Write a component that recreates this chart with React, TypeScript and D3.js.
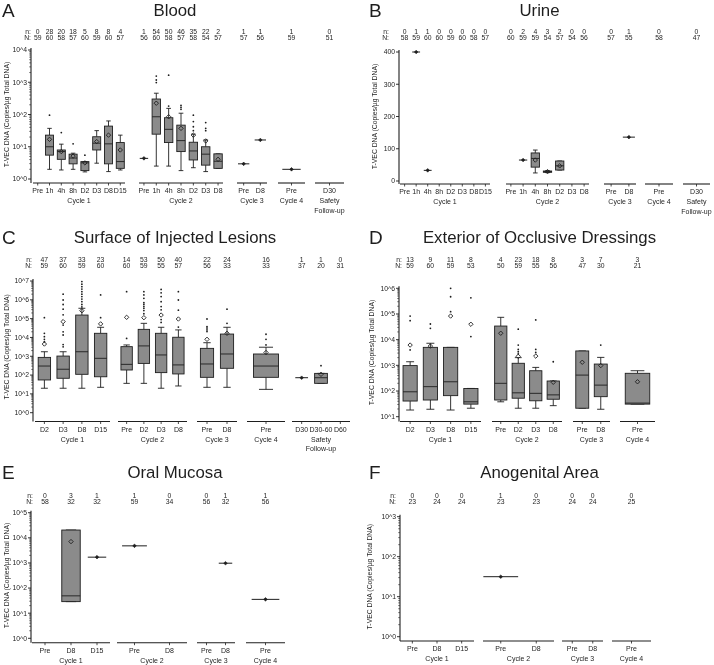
import React from "react";
import * as d3 from "d3";

const FONT = "'Liberation Sans', Arial, Helvetica, sans-serif";
const INK = "#1e1e1e";
const BOX_FILL = "#8b8b8b";
const Y_TITLE = "T-VEC DNA (Copies/µg Total DNA)";

// box rows: [group, category, whiskerLow, q1, median, q3, whiskerHigh, mean, outliers]
// single rows: [group, category, value]
// log panels hold log10(copies); the urine panel holds copies

// ---- A Blood ----
const bloodGroups = ["Cycle 1", "Cycle 2", "Cycle 3", "Cycle 4", "Safety\nFollow-up"];
const bloodCats = [
  ["Pre", "1h", "4h", "8h", "D2", "D3", "D8", "D15"],
  ["Pre", "1h", "4h", "8h", "D2", "D3", "D8"],
  ["Pre", "D8"],
  ["Pre"],
  ["D30"],
];
const bloodSmallN = [[0, 28, 20, 18, 5, 8, 8, 4], [1, 54, 50, 46, 35, 22, 2], [1, 1], [1], [0]];
const bloodBigN = [[59, 60, 58, 57, 60, 59, 60, 57], [56, 60, 58, 57, 58, 54, 57], [57, 56], [59], [51]];
const bloodBoxes = [
  [0, "1h", 0.3, 0.74, 1.0, 1.36, 1.57, 1.23, [1.98]],
  [0, "4h", 0.28, 0.61, 0.85, 0.9, 1.08, 0.85, [1.44]],
  [0, "8h", 0.3, 0.47, 0.65, 0.77, 0.8, 0.71, [1.09]],
  [0, "D2", 0.22, 0.26, 0.5, 0.54, 0.54, 0.5, [0.74]],
  [0, "D3", 0.49, 0.9, 1.11, 1.31, 1.5, 1.16, []],
  [0, "D8", 0.23, 0.47, 1.09, 1.64, 1.8, 1.36, []],
  [0, "D15", 0.28, 0.33, 0.54, 1.13, 1.36, 0.9, []],
  [1, "1h", 0.4, 1.39, 1.93, 2.48, 2.66, 2.35, [2.99, 3.07, 3.19]],
  [1, "4h", 0.4, 1.13, 1.54, 1.9, 2.19, 1.93, [2.26, 3.22]],
  [1, "8h", 0.26, 0.85, 1.19, 1.67, 2.04, 1.57, [2.16, 2.22, 2.28]],
  [1, "D2", 0.35, 0.59, 0.87, 1.14, 1.39, 1.36, [1.5, 1.62, 1.78, 1.98]],
  [1, "D3", 0.23, 0.43, 0.77, 1.0, 1.21, 1.18, [1.5, 1.57, 1.75]],
  [1, "D8", 0.33, 0.33, 0.55, 0.78, 0.78, 0.61, []],
];
const bloodSingles = [[1, "Pre", 0.64], [2, "Pre", 0.47], [2, "D8", 1.21], [3, "Pre", 0.3]];

// ---- B Urine ----
const urineGroups = bloodGroups;
const urineCats = bloodCats;
const urineSmallN = [[0, 1, 1, 0, 0, 0, 0, 0], [0, 2, 4, 3, 2, 0, 0], [0, 1], [0], [0]];
const urineBigN = [[58, 59, 60, 60, 59, 60, 58, 57], [60, 59, 59, 54, 57, 54, 56], [57, 55], [58], [47]];
const urineBoxes = [
  [1, "4h", 25, 43, 70, 87, 96, 65, []],
  [1, "8h", 26, 27, 29, 31, 32, 29, []],
  [1, "D2", 34, 34, 47, 62, 62, 47, []],
];
const urineSingles = [[0, "1h", 400], [0, "4h", 33], [1, "1h", 65], [2, "D8", 136]];

// ---- C Surface of Injected Lesions ----
const surfaceGroups = bloodGroups;
const surfaceCats = [["D2", "D3", "D8", "D15"], ["Pre", "D2", "D3", "D8"], ["Pre", "D8"], ["Pre"], ["D30", "D30-60", "D60"]];
const surfaceSmallN = [[47, 37, 33, 23], [14, 53, 50, 40], [22, 24], [16], [1, 1, 0]];
const surfaceBigN = [[59, 60, 59, 60], [60, 59, 55, 57], [56, 33], [33], [37, 20, 31]];
const surfaceBoxes = [
  [0, "D2", 1.3, 1.74, 2.48, 2.94, 3.24, 3.65, [3.77, 3.9, 4.04, 4.22, 5.05]],
  [0, "D3", 1.3, 1.83, 2.31, 3.01, 3.24, 4.84, [3.5, 3.62, 4.13, 4.3, 4.66, 5.2, 5.5, 5.75, 5.99, 6.3]],
  [0, "D8", 1.3, 2.04, 3.24, 5.19, 5.55, 5.42, [5.62, 5.75, 5.9, 6.04, 6.17, 6.3, 6.43, 6.57, 6.7, 6.83, 6.97]],
  [0, "D15", 1.35, 1.91, 2.89, 4.22, 4.54, 4.72, [5.05, 6.26]],
  [1, "Pre", 1.56, 2.27, 2.57, 3.51, 3.6, 5.07, [3.95, 6.43]],
  [1, "D2", 1.56, 2.62, 3.55, 4.43, 4.75, 5.05, [5.26, 5.43, 5.55, 5.64, 5.75, 5.85, 6.08, 6.26, 6.43]],
  [1, "D3", 1.3, 2.13, 3.07, 4.22, 4.54, 5.19, [4.8, 4.95, 5.47, 5.64, 5.9, 6.17, 6.37, 6.55]],
  [1, "D8", 1.42, 2.06, 2.54, 4.01, 4.4, 4.98, [4.55, 5.45, 5.99, 6.43]],
  [2, "Pre", 1.35, 1.88, 2.59, 3.42, 3.72, 3.9, [4.31, 4.4, 4.5, 4.57, 4.98]],
  [2, "D8", 1.35, 2.36, 3.12, 4.18, 4.54, 4.22, [4.75, 5.5]],
  [3, "Pre", 1.24, 1.88, 2.48, 3.12, 3.48, 3.2, [3.6, 3.9, 4.17]],
  [4, "D30-60", 1.56, 1.56, 1.86, 2.09, 2.09, 2.04, [2.5]],
];
const surfaceSingles = [[4, "D30", 1.86]];

// ---- D Exterior of Occlusive Dressings ----
const dressingGroups = ["Cycle 1", "Cycle 2", "Cycle 3", "Cycle 4"];
const dressingCats = [["D2", "D3", "D8", "D15"], ["Pre", "D2", "D3", "D8"], ["Pre", "D8"], ["Pre"]];
const dressingSmallN = [[13, 9, 11, 8], [4, 23, 18, 8], [3, 7], [3]];
const dressingBigN = [[59, 60, 59, 53], [50, 59, 55, 56], [47, 30], [21]];
const dressingBoxes = [
  [0, "D2", 1.26, 1.61, 1.97, 2.99, 3.14, 3.79, [3.6, 4.74, 4.92]],
  [0, "D3", 1.29, 1.65, 2.17, 3.7, 3.86, 3.75, [4.44, 4.61]],
  [0, "D8", 1.26, 1.82, 2.36, 3.7, 3.7, 4.92, [5.09, 5.67, 6.0]],
  [0, "D15", 1.33, 1.49, 1.58, 2.1, 2.1, 4.6, [4.12, 5.63]],
  [1, "Pre", 1.58, 1.65, 2.3, 4.53, 4.87, 4.25, []],
  [1, "D2", 1.33, 1.72, 1.93, 3.08, 3.3, 3.35, [3.45, 3.53, 3.62, 3.79, 4.41]],
  [1, "D3", 1.33, 1.62, 1.91, 2.79, 2.92, 3.36, [3.5, 3.62, 4.77]],
  [1, "D8", 1.43, 1.68, 1.85, 2.39, 2.39, 2.34, [3.14]],
  [2, "Pre", 1.33, 1.33, 2.62, 3.56, 3.56, 3.12, []],
  [2, "D8", 1.29, 1.78, 2.23, 3.05, 3.31, 2.99, [3.79]],
  [3, "Pre", 1.49, 1.49, 1.53, 2.69, 2.79, 2.36, []],
];
const dressingSingles: any[] = [];

// ---- E Oral Mucosa ----
const oralGroups = dressingGroups;
const oralCats = [["Pre", "D8", "D15"], ["Pre", "D8"], ["Pre", "D8"], ["Pre"]];
const oralSmallN = [[0, 3, 1], [1, 0], [0, 1], [1]];
const oralBigN = [[58, 32, 32], [59, 34], [56, 32], [56]];
const oralBoxes = [[0, "D8", 1.46, 1.46, 1.69, 4.31, 4.31, 3.85, []]];
const oralSingles = [[0, "D15", 3.23], [1, "Pre", 3.68], [2, "D8", 2.99], [3, "Pre", 1.55]];

// ---- F Anogenital Area ----
const anoGroups = dressingGroups;
const anoCats = oralCats;
const anoSmallN = [[0, 0, 0], [1, 0], [0, 0], [0]];
const anoBigN = [[23, 24, 24], [23, 23], [24, 24], [25]];
const anoBoxes: any[] = [];
const anoSingles = [[1, "Pre", 1.5]];

// ---- layout ----
const panels = [
  {
    letter: "A", letterX: 2, title: "Blood", cx: 175, titleY: 16, nY: 34, NY: 40, nX: 31, titleX: 9,
    axisX: 31, log: true, domain: [0, 4], yBottom: 179, yTop: 50, lineY: 183,
    spans: [[33, 125], [139, 223], [237, 267], [278, 305], [315, 344]], pad: 0.4, boxK: 0.68,
    groups: bloodGroups, cats: bloodCats, smallN: bloodSmallN, bigN: bloodBigN, boxes: bloodBoxes, singles: bloodSingles,
  },
  {
    letter: "B", letterX: 369, title: "Urine", cx: 539.5, titleY: 16, nY: 34, NY: 40, nX: 389, titleX: 377,
    axisX: 399, log: false, domain: [0, 400], yBottom: 181, yTop: 52, lineY: 184,
    spans: [[400, 490], [506, 589], [604, 636], [645, 673], [683, 710]], pad: 0.4, boxK: 0.68,
    groups: urineGroups, cats: urineCats, smallN: urineSmallN, bigN: urineBigN, boxes: urineBoxes, singles: urineSingles,
  },
  {
    letter: "C", letterX: 2, title: "Surface of Injected Lesions", cx: 175, titleY: 243, nY: 262, NY: 268, nX: 32, titleX: 9,
    axisX: 33, log: true, domain: [0, 7], yBottom: 412.7, yTop: 281, lineY: 421.5,
    spans: [[35, 110], [118, 187], [197, 237], [247, 285], [292, 350]], pad: 0.5, boxK: 0.66,
    groups: surfaceGroups, cats: surfaceCats, smallN: surfaceSmallN, bigN: surfaceBigN, boxes: surfaceBoxes, singles: surfaceSingles,
  },
  {
    letter: "D", letterX: 369, title: "Exterior of Occlusive Dressings", cx: 539.5, titleY: 243, nY: 262, NY: 268, nX: 402, titleX: 374,
    axisX: 399, log: true, domain: [1, 6], yBottom: 416.7, yTop: 288.3, lineY: 421.5,
    spans: [[400, 481], [492, 562], [573, 610], [620, 655]], pad: 0.5, boxK: 0.7,
    groups: dressingGroups, cats: dressingCats, smallN: dressingSmallN, bigN: dressingBigN, boxes: dressingBoxes, singles: dressingSingles,
  },
  {
    letter: "E", letterX: 2, title: "Oral Mucosa", cx: 175, titleY: 478, nY: 498, NY: 504, nX: 33, titleX: 9,
    axisX: 31, log: true, domain: [0, 5], yBottom: 638.3, yTop: 512.7, lineY: 642.7,
    spans: [[32, 110], [117, 187], [197, 235], [246, 285]], pad: 0.5, boxK: 0.71,
    groups: oralGroups, cats: oralCats, smallN: oralSmallN, bigN: oralBigN, boxes: oralBoxes, singles: oralSingles,
  },
  {
    letter: "F", letterX: 369, title: "Anogenital Area", cx: 539.5, titleY: 478, nY: 498, NY: 504, nX: 396, titleX: 372,
    axisX: 400, log: true, domain: [0, 3], yBottom: 636.7, yTop: 516.7, lineY: 641,
    spans: [[400, 474], [483, 554], [562, 603], [612, 651]], pad: 0.5, boxK: 0.98,
    groups: anoGroups, cats: anoCats, smallN: anoSmallN, bigN: anoBigN, boxes: anoBoxes, singles: anoSingles,
  },
];

function diamond(x: number, y: number, r: number) {
  return `M${x},${y - r}L${x + r},${y}L${x},${y + r}L${x - r},${y}Z`;
}

function Panel({ p }: { p: any }) {
  const base = p.log
    ? d3.scaleLog().domain([10 ** p.domain[0], 10 ** p.domain[1]]).range([p.yBottom, p.yTop])
    : d3.scaleLinear().domain(p.domain).range([p.yBottom, p.yTop]);
  const y = (v: number) => (p.log ? base(10 ** v) : base(v));

  const xs = p.cats.map((cats: string[], gi: number) =>
    d3.scalePoint().domain(cats).range(p.spans[gi]).padding(p.pad)
  );

  const majors: number[] = p.log ? d3.range(p.domain[0], p.domain[1] + 1) : (base as any).ticks(4);
  const minors: number[] = [];
  if (p.log) {
    for (let k = p.domain[0]; k < p.domain[1]; k++) {
      for (let m = 2; m <= 9; m++) minors.push(k + Math.log10(m));
    }
  }
  const axisTop = p.yTop - 2;
  const midY = (p.yTop + p.yBottom) / 2;

  return (
    <g fontFamily={FONT} fill={INK}>
      <text x={p.letterX} y={p.titleY + 1} fontSize={19}>{p.letter}</text>
      <text x={p.cx} y={p.titleY} fontSize={16.8} textAnchor="middle">{p.title}</text>

      {/* n / N header */}
      <text x={p.nX} y={p.nY} fontSize={6.8} textAnchor="end">n:</text>
      <text x={p.nX} y={p.NY} fontSize={6.8} textAnchor="end">N:</text>
      {p.cats.map((cats: string[], gi: number) =>
        cats.map((c, ci) => (
          <g key={`h${gi}-${c}`} fontSize={6.8} textAnchor="middle">
            <text x={xs[gi](c)} y={p.nY}>{p.smallN[gi][ci]}</text>
            <text x={xs[gi](c)} y={p.NY}>{p.bigN[gi][ci]}</text>
          </g>
        ))
      )}

      {/* y axis */}
      <line x1={p.axisX} x2={p.axisX} y1={axisTop} y2={p.lineY} stroke={INK} strokeWidth={1.1} />
      {majors.map((t) => (
        <g key={`t${t}`}>
          <line x1={p.axisX - 3} x2={p.axisX} y1={y(t)} y2={y(t)} stroke={INK} strokeWidth={0.9} />
          <text x={p.axisX - 4} y={y(t)} dy="0.35em" fontSize={6.8} textAnchor="end">
            {p.log ? `10^${t}` : t}
          </text>
        </g>
      ))}
      {minors.map((t) => (
        <line key={`m${t}`} x1={p.axisX - 1.8} x2={p.axisX} y1={y(t)} y2={y(t)} stroke={INK} strokeWidth={0.6} />
      ))}
      <text transform={`translate(${p.titleX},${midY}) rotate(-90)`} fontSize={6.8} textAnchor="middle">
        {Y_TITLE}
      </text>

      {/* group axes */}
      {p.groups.map((g: string, gi: number) => {
        const [a, b] = p.spans[gi];
        const lines = g.split("\n");
        return (
          <g key={`g${gi}`}>
            <line x1={a} x2={b} y1={p.lineY} y2={p.lineY} stroke={INK} strokeWidth={1.1} />
            {p.cats[gi].map((c: string) => (
              <g key={c}>
                <line x1={xs[gi](c)} x2={xs[gi](c)} y1={p.lineY} y2={p.lineY + 2.5} stroke={INK} strokeWidth={0.8} />
                <text x={xs[gi](c)} y={p.lineY + 10} fontSize={7} textAnchor="middle">{c}</text>
              </g>
            ))}
            {lines.map((l, li) => (
              <text key={li} x={(a + b) / 2} y={p.lineY + 20 + li * 9.5} fontSize={7} textAnchor="middle">{l}</text>
            ))}
          </g>
        );
      })}

      {/* boxes */}
      {p.boxes.map((r: any) => {
        const [gi, c, lo, q1, med, q3, hi, mean, outs] = r;
        const x = xs[gi](c);
        const w = xs[gi].step() * p.boxK;
        const cap = w * 0.28;
        return (
          <g key={`b${gi}-${c}`} stroke={INK}>
            <line x1={x} x2={x} y1={y(hi)} y2={y(q3)} strokeWidth={0.9} />
            <line x1={x} x2={x} y1={y(q1)} y2={y(lo)} strokeWidth={0.9} />
            <line x1={x - cap} x2={x + cap} y1={y(hi)} y2={y(hi)} strokeWidth={0.9} />
            <line x1={x - cap} x2={x + cap} y1={y(lo)} y2={y(lo)} strokeWidth={0.9} />
            <rect x={x - w / 2} y={y(q3)} width={w} height={Math.max(1, y(q1) - y(q3))} fill={BOX_FILL} strokeWidth={0.9} />
            <line x1={x - w / 2} x2={x + w / 2} y1={y(med)} y2={y(med)} strokeWidth={0.9} />
            <path d={diamond(x, y(mean), 2.2)} fill="none" strokeWidth={0.9} />
            {outs.map((o: number, i: number) => (
              <circle key={i} cx={x} cy={y(o)} r={0.9} fill={INK} stroke="none" />
            ))}
          </g>
        );
      })}

      {/* single values */}
      {p.singles.map((r: any) => {
        const [gi, c, v] = r;
        const x = xs[gi](c);
        const w = xs[gi].step() * p.boxK;
        return (
          <g key={`s${gi}-${c}`}>
            <line x1={x - w / 2} x2={x + w / 2} y1={y(v)} y2={y(v)} stroke={INK} strokeWidth={1} />
            <path d={diamond(x, y(v), 1.8)} fill={INK} stroke={INK} strokeWidth={0.6} />
          </g>
        );
      })}
    </g>
  );
}

export default function App() {
  return (
    <svg
      width={714}
      height={665}
      viewBox="0 0 714 665"
      style={{ position: "absolute", left: 0, top: 0, willChange: "transform" }}
    >
      <rect width={714} height={665} fill="#fff" />
      {panels.map((p) => (
        <Panel key={p.letter} p={p} />
      ))}
    </svg>
  );
}
